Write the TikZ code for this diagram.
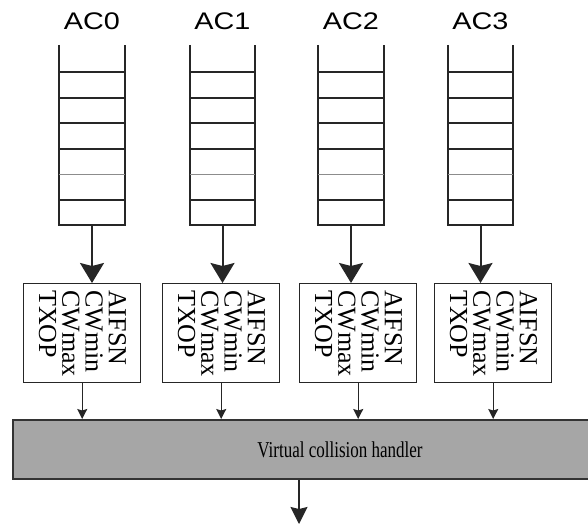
\documentclass[tikz,border=0pt]{standalone}
\usepackage{graphicx}
\usepackage{fontspec}
\setmainfont{Liberation Serif}
\newfontfamily\acfont{Liberation Sans}
\usetikzlibrary{arrows.meta,calc}
\begin{document}
\begin{tikzpicture}[x=1pt,y=-1pt,
  ink/.style={draw=black!85},
  qnode/.style={minimum width=65pt,minimum height=180pt,inner sep=0pt},
  qwall/.style={ink,line width=2.2pt},
  rung/.style={ink,line width=1.9pt},
  lrung/.style={draw=black!45,line width=1.2pt},
  aclabel/.style={font=\acfont\fontsize{24}{24}\selectfont,inner sep=0pt,anchor=base},
  parbox/.style={ink,line width=1.4pt,minimum width=117pt,minimum height=99pt,inner sep=0pt,anchor=north west},
  boxtxt/.style={font=\fontsize{26}{23.3}\selectfont,align=left,inner sep=0pt,rotate=-90,anchor=north west},
  bigarrow/.style={ink,line width=2pt,-{Stealth[length=20pt,width=24pt,inset=3pt]}},
  smallarrow/.style={ink,line width=1.1pt,-{Stealth[length=10pt,width=10pt,inset=1.5pt]}},
  outarrow/.style={ink,line width=1.5pt,-{Stealth[length=17pt,width=17pt,inset=2pt]}},
  handler/.style={draw=black!80,fill=black!35,line width=1.6pt,minimum width=580pt,minimum height=59pt,inner sep=0pt,anchor=north west},
  htext/.style={font=\fontsize{18}{18}\selectfont,inner sep=0pt,anchor=base}
]
\useasboundingbox (0,0) rectangle (588,525);

% handler
\node[handler] (h) at (12,419) {};
\node[htext] (ht) at (340,457) {\scalebox{0.945}[1.26]{Virtual collision handler}};

% queues, labels, parameter boxes
\foreach \i/\qx/\bx in {0/92/23, 1/222.5/162, 2/351/299, 3/480.5/434}{
  \node[aclabel] (l\i) at (\qx,29) {\scalebox{1.2}[1]{AC\i}};
  \node[qnode] (q\i) at (\qx,135) {};
  \draw[qwall] (q\i.north west) -- (q\i.south west) -- (q\i.south east) -- (q\i.north east);
  \foreach \f in {0.15,0.294,0.433,0.578,0.861}{
    \draw[rung] ($(q\i.north west)!\f!(q\i.south west)$) -- ($(q\i.north east)!\f!(q\i.south east)$);
  }
  \draw[lrung] ($(q\i.north west)!0.717!(q\i.south west)$) -- ($(q\i.north east)!0.717!(q\i.south east)$);
  \node[parbox] (b\i) at (\bx,283) {};
  \node[boxtxt] (t\i) at ($(b\i.north east)+(-15,7)$) {AIFSN\\CWmin\\CWmax\\TXOP};
  \draw[bigarrow] (q\i.south) -- (q\i.south |- b\i.north);
  \draw[smallarrow] (b\i.south) -- (b\i.south |- h.north);
}

% output arrow
\coordinate (out) at (299,524);
\draw[outarrow] (h.south -| out) -- (out);
\end{tikzpicture}
\end{document}
